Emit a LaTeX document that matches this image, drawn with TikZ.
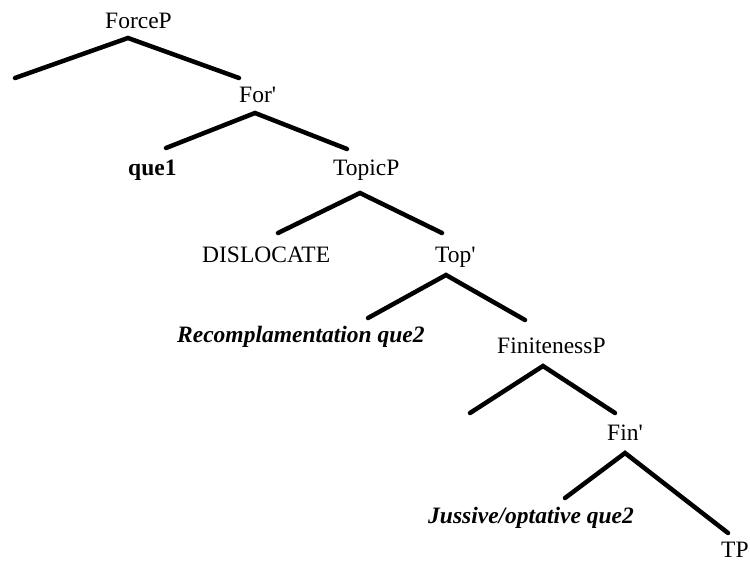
\documentclass[tikz,border=0pt]{standalone}
\usepackage{fontspec}
\setmainfont{Liberation Serif}[Ligatures=TeXOff]
\begin{document}
\begin{tikzpicture}[x=1pt,y=-1pt,
  lab/.style={anchor=base west,inner sep=0pt,font=\fontsize{23.5}{28}\selectfont},
  br/.style={line width=4.5pt,line cap=round}]
\useasboundingbox (0,0) rectangle (750,562);
\node[lab] (forcep) at (105,28) {ForceP};
\node[lab] (forbar) at (239,102) {For'};
\node[lab] (que1) at (128,175) {\textbf{que1}};
\node[lab] (topicp) at (333,175) {TopicP};
\node[lab] (disl) at (202,262) {DISLOCATE};
\node[lab] (topbar) at (435,262) {Top'};
\node[lab] (recomp) at (177,342) {\textbf{\textit{Recomplamentation que2}}};
\node[lab] (finp) at (497,353) {FinitenessP};
\node[lab] (finbar) at (607,440) {Fin'};
\node[lab] (juss) at (428,523) {\textbf{\textit{Jussive/optative que2}}};
\node[lab] (tp) at (721,557) {TP};
% apexes and free ends
\coordinate (a1) at (128,38);  \coordinate (l1) at (15,78);  \coordinate (r1) at (239,78);
\coordinate (a2) at (255,113); \coordinate (l2) at (166,148); \coordinate (r2) at (347,149);
\coordinate (a3) at (360,193); \coordinate (l3) at (278,233); \coordinate (r3) at (442,233);
\coordinate (a4) at (446,275); \coordinate (l4) at (368,318); \coordinate (r4) at (525,320);
\coordinate (a5) at (543,366); \coordinate (l5) at (470,413); \coordinate (r5) at (615,413);
\coordinate (a6) at (625,453); \coordinate (l6) at (565,498); \coordinate (r6) at (728,533);
\draw[br] (l1) -- (a1) -- (r1);
\draw[br] (l2) -- (a2) -- (r2);
\draw[br] (l3) -- (a3) -- (r3);
\draw[br] (l4) -- (a4) -- (r4);
\draw[br] (l5) -- (a5) -- (r5);
\draw[br] (l6) -- (a6) -- (r6);
\end{tikzpicture}
\end{document}
